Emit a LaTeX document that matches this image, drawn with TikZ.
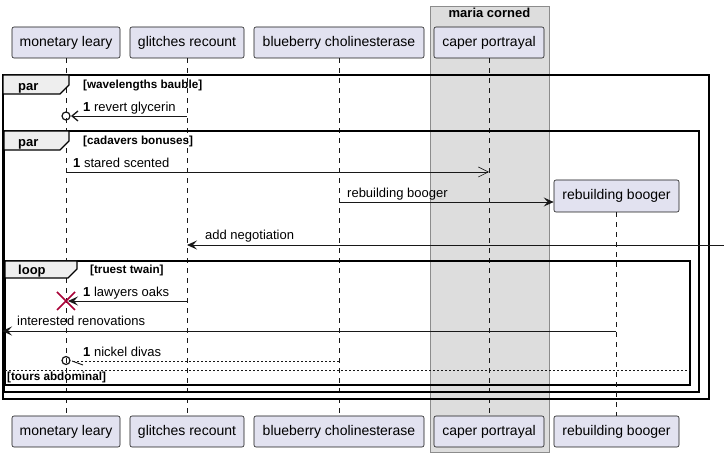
\documentclass[tikz,border=0pt]{standalone}
\usepackage{fontspec}
\setmainfont{Liberation Sans}
\usetikzlibrary{arrows.meta}
\definecolor{partfill}{HTML}{E2E2F0}
\definecolor{ink}{HTML}{181818}
\definecolor{boxfill}{HTML}{DDDDDD}
\definecolor{boxline}{HTML}{8C8C8C}
\definecolor{tabfill}{HTML}{EEEEEE}
\definecolor{xred}{HTML}{A80036}
\begin{document}
\begin{tikzpicture}[x=1pt,y=-1pt,
  part/.style={draw=ink, fill=partfill, rounded corners=2pt, line width=0.6pt,
    minimum height=31pt, inner sep=0pt, font=\fontsize{14}{16}\selectfont, text=black},
  lifeline/.style={draw=ink, line width=0.5pt, dash pattern=on 5pt off 5pt},
  frame/.style={draw=black, line width=1.5pt},
  tab/.style={draw=black, fill=tabfill, line width=1.2pt},
  tabtxt/.style={font=\bfseries\fontsize{13}{15}\selectfont, anchor=base west, inner sep=0pt},
  grp/.style={font=\bfseries\fontsize{11.7}{13}\selectfont, anchor=base west, inner sep=0pt},
  msg/.style={font=\fontsize{13}{15}\selectfont, anchor=base west, inner sep=0pt, text=black},
  msgline/.style={draw=ink, line width=0.9pt},
  fillhead/.style={-{Stealth[length=10pt,width=9pt,inset=4pt]}},
  barbhead/.style={-{Straight Barb[length=6pt,width=10pt,line width=1.3pt]}},
  openhead/.style={-{Straight Barb[length=10pt,width=10pt,line width=0.6pt]}}
]
\useasboundingbox (0,0) rectangle (724,457);
\fill[white] (0,0) rectangle (724,457);

% box group
\draw[fill=boxfill, draw=boxline, line width=0.8pt] (430,6) rectangle (549,452);
\node[font=\bfseries\fontsize{13}{15}\selectfont, anchor=base, inner sep=0pt] (boxtitle) at (489.5,18) {maria corned};

% participants
\node[part, minimum width=108pt] (mlT) at (66,42.5) {monetary leary};
\node[part, minimum width=114pt] (grT) at (187,42.5) {glitches recount};
\node[part, minimum width=170pt] (bcT) at (339,42.5) {blueberry cholinesterase};
\node[part, minimum width=110pt] (cpT) at (489,42.5) {caper portrayal};
\node[part, minimum width=108pt] (mlB) at (66,431.5) {monetary leary};
\node[part, minimum width=114pt] (grB) at (187,431.5) {glitches recount};
\node[part, minimum width=170pt] (bcB) at (339,431.5) {blueberry cholinesterase};
\node[part, minimum width=110pt] (cpB) at (489,431.5) {caper portrayal};
\node[part, minimum width=125pt] (rbB) at (616.5,431.5) {rebuilding booger};

% lifelines
\draw[lifeline] (mlT) -- (mlB);
\draw[lifeline] (grT) -- (grB);
\draw[lifeline] (bcT) -- (bcB);
\draw[lifeline] (cpT) -- (cpB);

% frames
\draw[frame] (3,75) rectangle (709,399);
\draw[frame] (4,131) rectangle (699,392);
\draw[frame] (5,261) rectangle (690,385);
\draw[ink, line width=0.6pt, dash pattern=on 2pt off 2pt] (5,370) -- (690,370);

\draw[tab] (3,75) -- (69,75) -- (69,85) -- (60,94) -- (3,94) -- cycle;
\node[tabtxt] (t1) at (18,91) {par};
\node[grp] (g1) at (83,89) {[wavelengths bauble]};

\draw[tab] (4,131) -- (69,131) -- (69,141) -- (60,150) -- (4,150) -- cycle;
\node[tabtxt] (t2) at (18,147) {par};
\node[grp] (g2) at (83,145) {[cadavers bonuses]};

\draw[tab] (5,261) -- (77,261) -- (77,269) -- (68,278) -- (5,278) -- cycle;
\node[tabtxt] (t3) at (18,275) {loop};
\node[grp] (g3) at (90,274) {[truest twain]};
\node[grp] (g4) at (7,381) {[tours abdominal]};

% created participant
\node[part, minimum width=125pt, minimum height=32pt] (rbT) at (616.5,196) {rebuilding booger};
\draw[lifeline] (rbT) -- (rbB);

% message 1: revert glycerin
\coordinate (m1s) at (187,116);
\coordinate (m1e) at (71,116);
\draw[msgline, barbhead] (m1s) -- (m1e);
\draw[ink, line width=1.2pt] (66,116) circle (4pt);
\node[msg] (l1) at (83,112) {\textbf{1} revert glycerin};

% message 2: stared scented
\coordinate (m2s) at (66,172);
\coordinate (m2e) at (489,172);
\draw[msgline, openhead] (m2s) -- (m2e);
\node[msg] (l2) at (73,168) {\textbf{1} stared scented};

% message 3: create rebuilding booger
\coordinate (m3s) at (339,202);
\draw[msgline, fillhead] (m3s) -- (rbT.west |- m3s);
\node[msg] (l3) at (347,198) {rebuilding booger};

% message 4: add negotiation
\coordinate (m4s) at (724,245);
\coordinate (m4e) at (187,245);
\draw[msgline, fillhead] (m4s) -- (m4e);
\node[msg] (l4) at (205,240) {add negotiation};

% message 5: lawyers oaks + destroy
\coordinate (m5s) at (187,301);
\coordinate (m5e) at (68,301);
\draw[msgline, fillhead] (m5s) -- (m5e);
\draw[xred, line width=1.6pt] (57,292) -- (75,310) (57,310) -- (75,292);
\node[msg] (l5) at (83,297) {\textbf{1} lawyers oaks};

% message 6: interested renovations
\coordinate (m6s) at (616,331);
\coordinate (m6e) at (2,331);
\draw[msgline, fillhead] (m6s) -- (m6e);
\node[msg] (l6) at (17,326) {interested renovations};

% message 7: nickel divas
\coordinate (m7s) at (339,361);
\coordinate (m7e) at (72,361);
\draw[ink, line width=0.7pt, dash pattern=on 2pt off 2pt] (m7s) -- (m7e);
\draw[ink, line width=0.9pt] (m7e) -- (83,365);
\draw[ink, line width=1.2pt] (66,360.5) circle (4pt);
\node[msg] (l7) at (83,357) {\textbf{1} nickel divas};
\end{tikzpicture}
\end{document}
